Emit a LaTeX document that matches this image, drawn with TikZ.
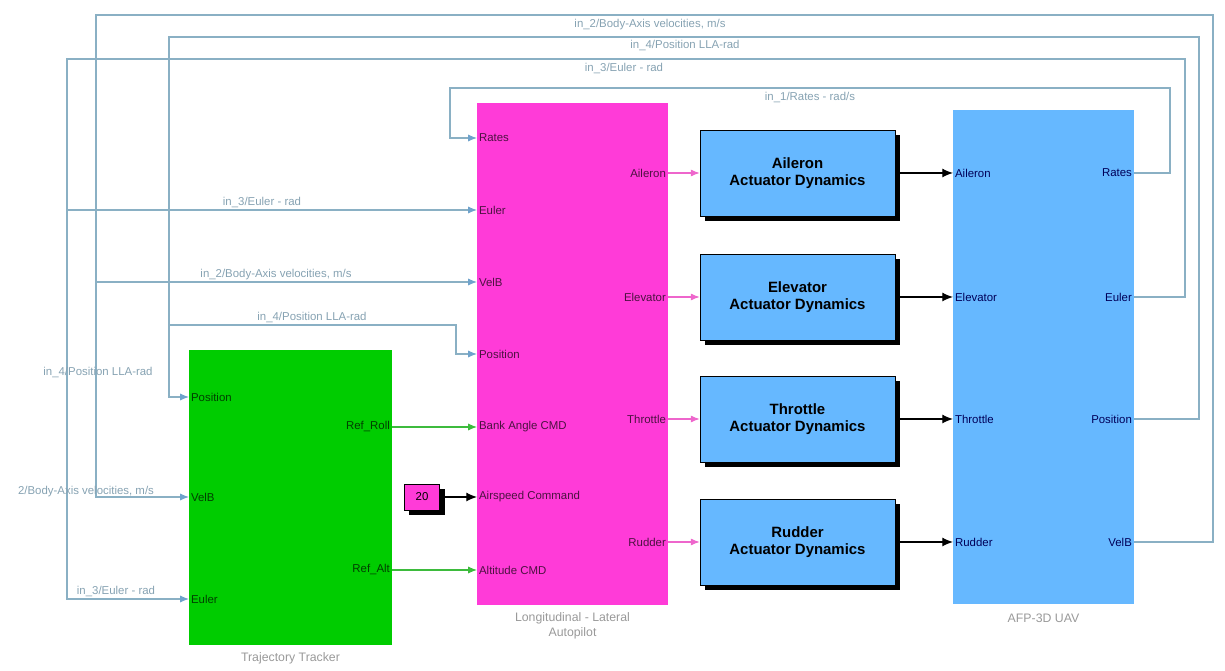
\documentclass[tikz,border=0pt]{standalone}
\usepackage{fontspec}
\setmainfont{Liberation Sans}
\usepackage{xcolor}
\usetikzlibrary{arrows.meta,positioning,backgrounds}
\definecolor{trkgreen}{HTML}{00CC00}
\definecolor{apink}{HTML}{FF3BD8}
\definecolor{uavblue}{HTML}{66B8FF}
\definecolor{fbline}{HTML}{8AB0C4}
\definecolor{fbtip}{HTML}{6FA3CC}
\definecolor{siglabel}{HTML}{86A2B2}
\definecolor{sgreen}{HTML}{3DBB3D}
\definecolor{spink}{HTML}{EE66CC}

\begin{document}
\begin{tikzpicture}[x=0.02cm,y=-0.02cm,
      block/.style={rectangle,draw=none,inner sep=0pt},
      actbox/.style={rectangle,draw=black,thin,fill=uavblue,
                     minimum width=3.9cm,minimum height=1.72cm,
                     font=\fontsize{8.5}{10}\selectfont\bfseries,align=center},
      plabel/.style={inner sep=1pt,font=\fontsize{6.5}{7}\selectfont},
      slabel/.style={inner sep=1pt,font=\fontsize{6.5}{7}\selectfont,text=siglabel},
      title/.style={inner sep=0pt,font=\fontsize{7}{8.5}\selectfont,text=gray!80,align=center},
      fb/.style={fbline,line width=0.6pt,-{Latex[length=5pt,width=4pt,color=fbtip]}},
      garrow/.style={sgreen,line width=0.6pt,-{Latex[length=5pt,width=4pt]}},
      parrow/.style={spink,line width=0.6pt,-{Latex[length=5pt,width=4pt]}},
      karrow/.style={black,line width=0.6pt,-{Latex[length=6pt,width=5pt]}}
    ]
    \useasboundingbox (0,0) rectangle (1225,671);

    % trajectory tracker
    \node[block,fill=trkgreen,minimum width=4.06cm,minimum height=5.9cm] (trk) at (290.5,497.5) {};
    \node[title,below=4pt of trk] {Trajectory Tracker};
    \node[plabel,anchor=west,text=green!25!black] (trk-pos)  at (189,397) {Position};
    \node[plabel,anchor=west,text=green!25!black] (trk-velb) at (189,497) {VelB};
    \node[plabel,anchor=west,text=green!25!black] (trk-eul)  at (189,599) {Euler};
    \node[plabel,anchor=east,text=green!25!black] (trk-roll) at (392,427) {Ref\_Roll};
    \node[plabel,anchor=east,text=green!25!black] (trk-alt)  at (392,570) {Ref\_Alt};

    % autopilot
    \node[block,fill=apink,minimum width=3.82cm,minimum height=10.04cm] (ap) at (572.5,354) {};
    \node[title,below=4pt of ap] {Longitudinal - Lateral\\Autopilot};
    \node[plabel,anchor=west,text=apink!30!black] (ap-rates) at (477,138) {Rates};
    \node[plabel,anchor=west,text=apink!30!black] (ap-eul)   at (477,210) {Euler};
    \node[plabel,anchor=west,text=apink!30!black] (ap-velb)  at (477,282) {VelB};
    \node[plabel,anchor=west,text=apink!30!black] (ap-pos)   at (477,354) {Position};
    \node[plabel,anchor=west,text=apink!30!black] (ap-bank)  at (477,427) {Bank Angle CMD};
    \node[plabel,anchor=west,text=apink!30!black] (ap-spd)   at (477,497) {Airspeed Command};
    \node[plabel,anchor=west,text=apink!30!black] (ap-alt)   at (477,570) {Altitude CMD};
    \node[plabel,anchor=east,text=apink!30!black] (ap-ail)   at (668,173) {Aileron};
    \node[plabel,anchor=east,text=apink!30!black] (ap-ele)   at (668,297) {Elevator};
    \node[plabel,anchor=east,text=apink!30!black] (ap-thr)   at (668,419) {Throttle};
    \node[plabel,anchor=east,text=apink!30!black] (ap-rud)   at (668,542) {Rudder};

    % airspeed constant
    \node[rectangle,draw=black,fill=apink,minimum width=0.7cm,minimum height=0.52cm,
          inner sep=0pt,font=\fontsize{6.5}{7}\selectfont] (cst) at (422,497) {20};

    % actuators
    \node[actbox] (act-ail) at (797.5,173) {Aileron\\Actuator Dynamics};
    \node[actbox] (act-ele) at (797.5,297) {Elevator\\Actuator Dynamics};
    \node[actbox] (act-thr) at (797.5,419) {Throttle\\Actuator Dynamics};
    \node[actbox] (act-rud) at (797.5,542) {Rudder\\Actuator Dynamics};

    % block shadows
    \begin{scope}[on background layer]
      \foreach \b in {cst,act-ail,act-ele,act-thr,act-rud}
        \fill[black] ([shift={(5,5)}]\b.north west) rectangle ([shift={(5,5)}]\b.south east);
    \end{scope}

    % aircraft model
    \node[block,fill=uavblue,minimum width=3.62cm,minimum height=9.88cm] (uav) at (1043.5,357) {};
    \node[title,below=5pt of uav] {AFP-3D UAV};
    \node[plabel,anchor=west,text=blue!35!black] (uav-ail)  at (953,173) {Aileron};
    \node[plabel,anchor=west,text=blue!35!black] (uav-ele)  at (953,297) {Elevator};
    \node[plabel,anchor=west,text=blue!35!black] (uav-thr)  at (953,419) {Throttle};
    \node[plabel,anchor=west,text=blue!35!black] (uav-rud)  at (953,542) {Rudder};
    \node[plabel,anchor=east,text=blue!35!black] (uav-rates) at (1134,173) {Rates};
    \node[plabel,anchor=east,text=blue!35!black] (uav-eul)   at (1134,297) {Euler};
    \node[plabel,anchor=east,text=blue!35!black] (uav-pos)   at (1134,419) {Position};
    \node[plabel,anchor=east,text=blue!35!black] (uav-velb)  at (1134,542) {VelB};

    % forward signals
    \draw[garrow] (trk-roll.east) -- (ap-bank.west);
    \draw[garrow] (trk-alt.east)  -- (ap-alt.west);
    \draw[karrow] ([xshift=2.5pt]cst.east) -- (ap-spd.west);
    \draw[parrow] (ap-ail.east) -- (act-ail.west);
    \draw[parrow] (ap-ele.east) -- (act-ele.west);
    \draw[parrow] (ap-thr.east) -- (act-thr.west);
    \draw[parrow] (ap-rud.east) -- (act-rud.west);
    \draw[karrow] ([xshift=2.5pt]act-ail.east) -- (uav-ail.west);
    \draw[karrow] ([xshift=2.5pt]act-ele.east) -- (uav-ele.west);
    \draw[karrow] ([xshift=2.5pt]act-thr.east) -- (uav-thr.west);
    \draw[karrow] ([xshift=2.5pt]act-rud.east) -- (uav-rud.west);

    % feedback buses
    \coordinate (j-eul)  at (67,210);
    \coordinate (j-velb) at (96,282);
    \coordinate (j-pos)  at (169,325);

    \draw[fb] (uav-rates.east) -- ++(36,0) |- (450,88) |- (ap-rates.west);
    \draw[fb] (uav-eul.east)  -- ++(51,0) |- (67,59)  |- (trk-eul.west);
    \draw[fb] (uav-pos.east)  -- ++(65,0) |- (169,37) |- (trk-pos.west);
    \draw[fb] (uav-velb.east) -- ++(79,0) |- (96,15)  |- (trk-velb.west);
    \draw[fb] (j-eul)  -- (ap-eul.west);
    \draw[fb] (j-velb) -- (ap-velb.west);
    \draw[fb] (j-pos)  -| (456,354) -- (ap-pos.west);

    % signal names
    \node[slabel] at (650,25)  {in\_2/Body-Axis velocities, m/s};
    \node[slabel] at (685,46)  {in\_4/Position LLA-rad};
    \node[slabel] at (624,69)  {in\_3/Euler - rad};
    \node[slabel] at (810,98)  {in\_1/Rates - rad/s};
    \node[slabel] at (262,203) {in\_3/Euler - rad};
    \node[slabel] at (276,275) {in\_2/Body-Axis velocities, m/s};
    \node[slabel] at (312,318) {in\_4/Position LLA-rad};
    \node[slabel] at (98,373)  {in\_4/Position LLA-rad};
    \node[slabel] at (86,492)  {2/Body-Axis velocities, m/s};
    \node[slabel] at (116,592) {in\_3/Euler - rad};

  \end{tikzpicture}
\end{document}
